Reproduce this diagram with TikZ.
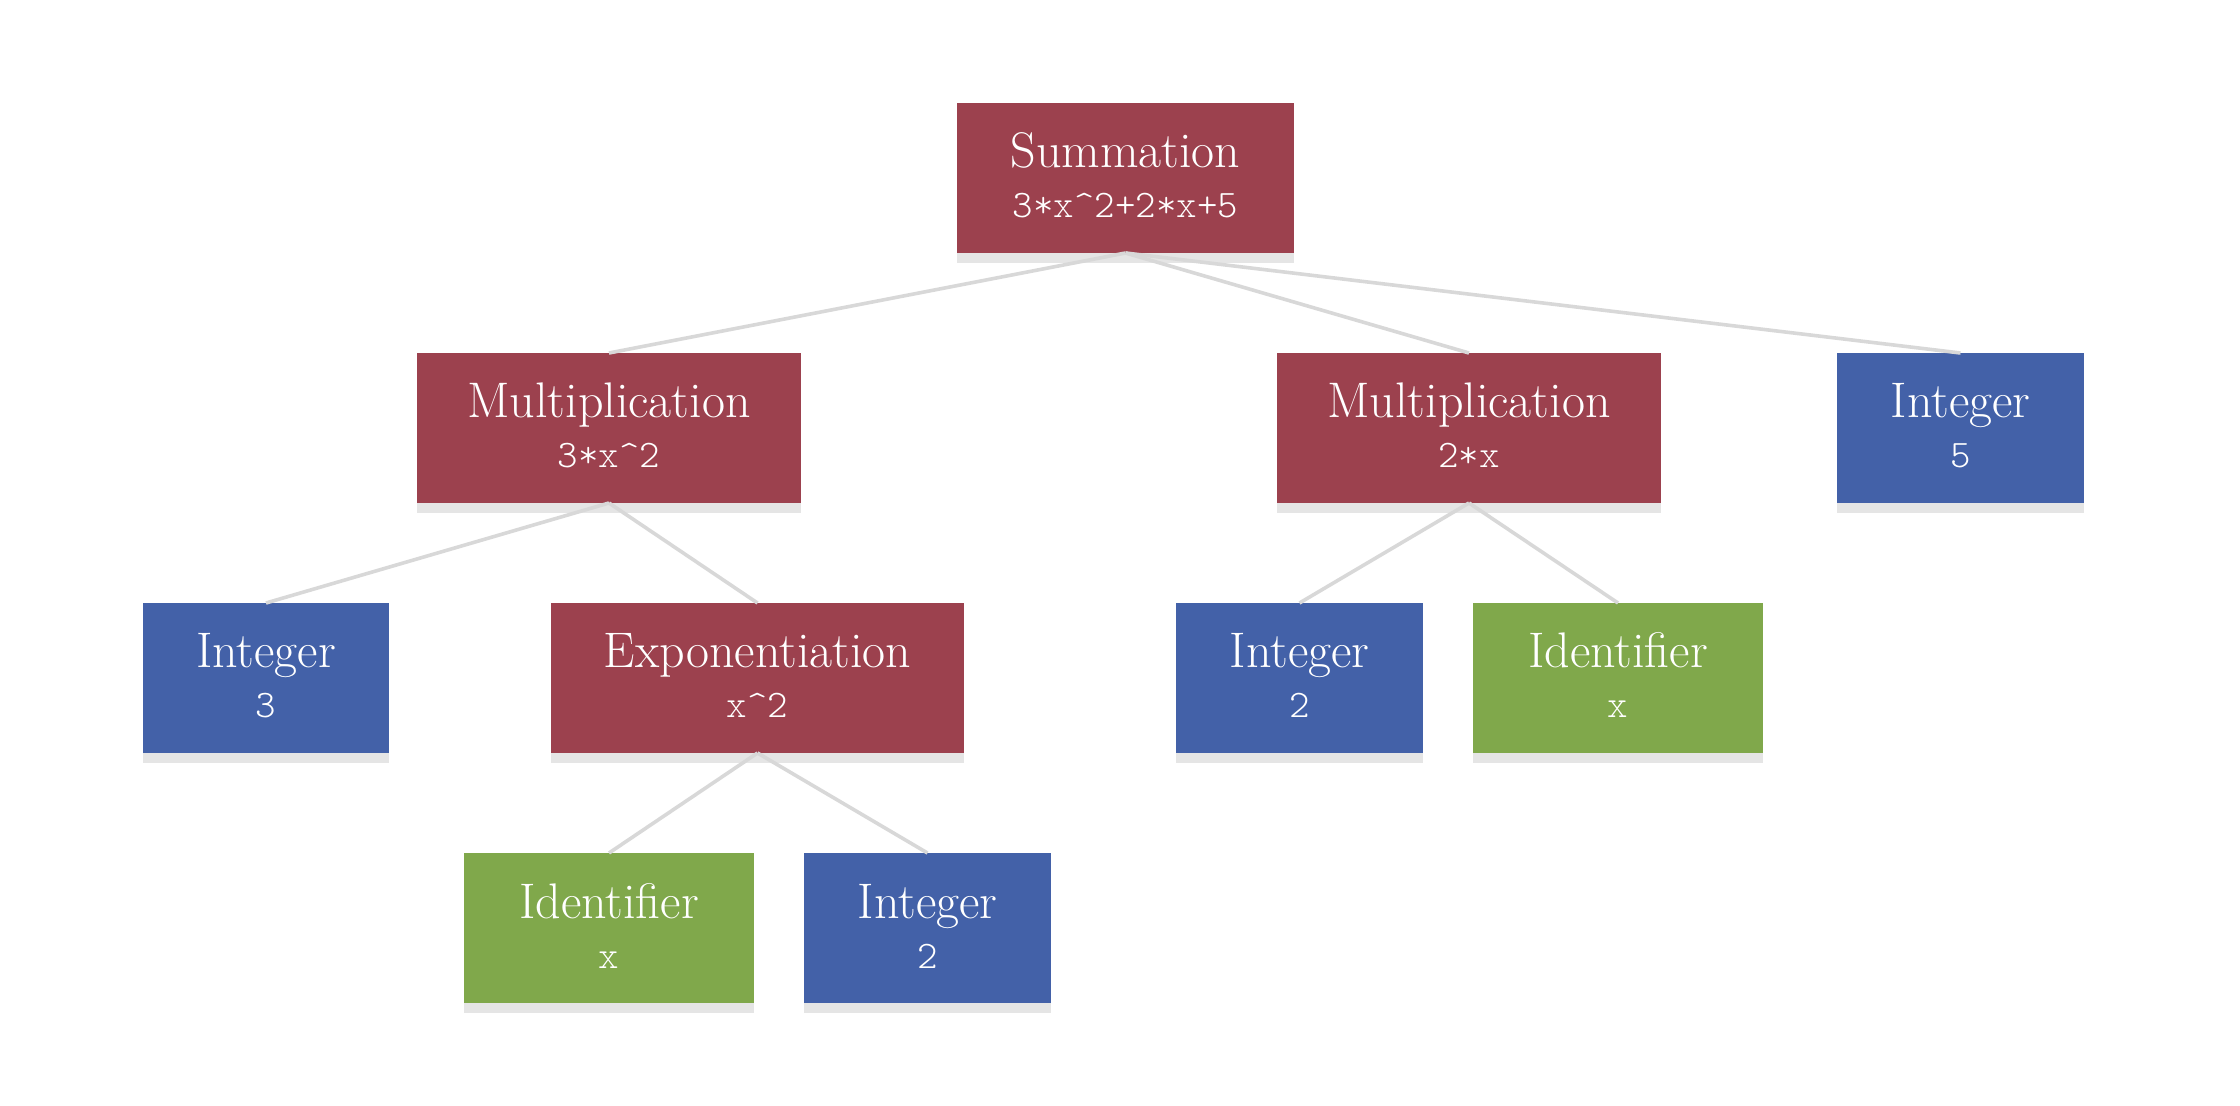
\documentclass[tikz,border=0pt]{standalone}
\usepackage{fontspec}
\setmonofont{Latin Modern Mono Light}
\definecolor{redc}{HTML}{9C414E}
\definecolor{bluec}{HTML}{4361A8}
\definecolor{greenc}{HTML}{80A84B}
\definecolor{shadowc}{HTML}{E5E5E5}
\definecolor{edgec}{HTML}{D8D8D8}
\tikzset{
  box/.style={rectangle, inner sep=0pt, outer sep=0pt, minimum height=75pt},
  titletext/.style={text=white, inner sep=0pt, font=\fontsize{25}{29}\selectfont},
  codetext/.style={text=white, inner sep=0pt, font=\fontsize{19.5}{23}\selectfont\ttfamily},
  edge/.style={draw=edgec, line width=1.8pt},
}
\newcommand\treebox[7]{%
  \node[box, fill=#5, minimum width=#4*0.5pt, anchor=north] (#1) at (#2,#3) {};
  \fill[shadowc] (#1.south west) rectangle ([yshift=-5pt]#1.south east);
  \node[titletext, anchor=base] (#1-t) at ([yshift=-32.5pt]#1.north) {#6};
  \node[codetext, anchor=base] (#1-c) at ([yshift=-57.5pt]#1.north) {#7};
}
\begin{document}
\begin{tikzpicture}[x=0.5pt, y=-0.5pt]
\useasboundingbox (0,0) rectangle (2240,1106);
\treebox{sum}{1125.5}{103}{337}{redc}{Summation}{3*x\textasciicircum 2+2*x+5}
\treebox{m1}{609}{353}{384}{redc}{Multiplication}{3*x\textasciicircum 2}
\treebox{m2}{1469}{353}{384}{redc}{Multiplication}{2*x}
\treebox{i5}{1960.5}{353}{247}{bluec}{Integer}{5}
\treebox{i3}{266}{603}{246}{bluec}{Integer}{3}
\treebox{ex}{757.5}{603}{413}{redc}{Exponentiation}{x\textasciicircum 2}
\treebox{i2a}{1299.5}{603}{247}{bluec}{Integer}{2}
\treebox{ida}{1618}{603}{290}{greenc}{Identifier}{x}
\treebox{idb}{609}{853}{290}{greenc}{Identifier}{x}
\treebox{i2b}{927.5}{853}{247}{bluec}{Integer}{2}
\draw[edge] (sum.south) -- (m1.north);
\draw[edge] (sum.south) -- (m2.north);
\draw[edge] (sum.south) -- (i5.north);
\draw[edge] (m1.south) -- (i3.north);
\draw[edge] (m1.south) -- (ex.north);
\draw[edge] (m2.south) -- (i2a.north);
\draw[edge] (m2.south) -- (ida.north);
\draw[edge] (ex.south) -- (idb.north);
\draw[edge] (ex.south) -- (i2b.north);
\end{tikzpicture}
\end{document}
